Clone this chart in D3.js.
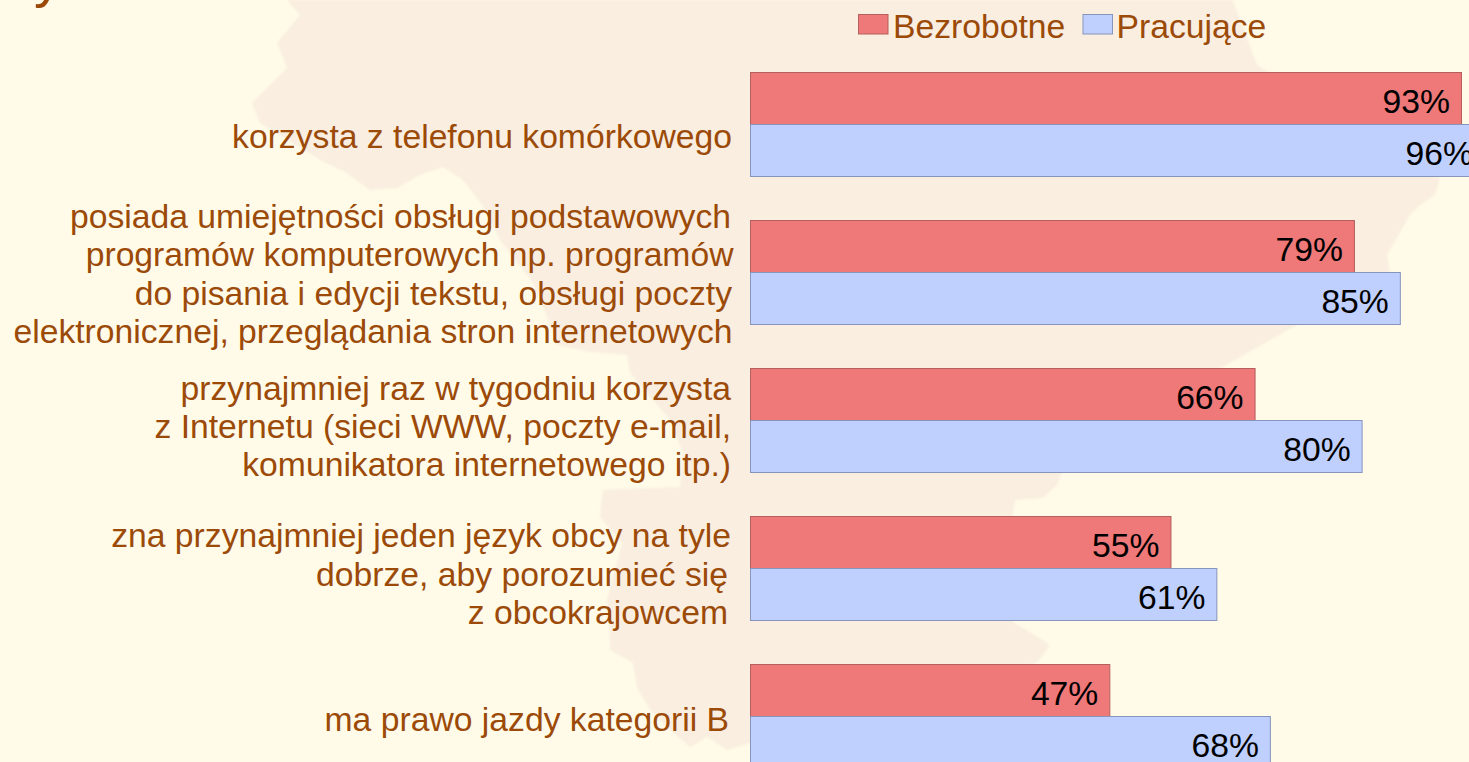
<!DOCTYPE html>
<html><head><meta charset="utf-8">
<script src="https://cdnjs.cloudflare.com/ajax/libs/d3/7.8.5/d3.min.js"></script>
<style>html,body{margin:0;padding:0;background:#FFFBE8;overflow:hidden}svg{display:block}text{font-family:"Liberation Sans",Arial,sans-serif}</style>
</head><body><svg id="c" width="1469" height="762"></svg>
<script>
const categories = ["telefon","programy","internet","jezyk","prawo"];
const categoryLines = [
 ["korzysta z telefonu komórkowego"],
 ["posiada umiejętności obsługi podstawowych","programów komputerowych np. programów","do pisania i edycji tekstu, obsługi poczty","elektronicznej, przeglądania stron internetowych"],
 ["przynajmniej raz w tygodniu korzysta","z Internetu (sieci WWW, poczty e-mail,","komunikatora internetowego itp.)"],
 ["zna przynajmniej jeden język obcy na tyle","dobrze, aby porozumieć się","z obcokrajowcem"],
 ["ma prawo jazdy kategorii B"]
];
const seriesNames = ["Bezrobotne","Pracujące"];
const bezrobotne = [93,79,66,55,47];
const pracujace = [96,85,80,61,68];
const seriesValues = [bezrobotne,pracujace];
const seriesColors = ["#EF7878","#BFD0FE"];
const seriesStrokes = ["#B4605E","#8595BC"];
const mapOutline = [[287,0],[300,15],[277,43],[287,68],[252,103],[260,123],[320,160],[345,172],[370,190],[397,188],[420,175],[443,167],[463,180],[482,205],[500,240],[533,283],[547,317],[557,345],[590,352],[627,355],[630,373],[647,393],[670,420],[683,453],[680,487],[620,489],[603,490],[600,517],[622,543],[607,600],[610,640],[610,650],[633,663],[637,687],[650,710],[670,730],[690,747],[707,737],[727,750],[750,743],[1037,663],[1050,645],[1043,640],[1013,622],[1013,516],[1015,500],[1043,498],[1057,485],[1062,472],[1200,380],[1390,272],[1387,255],[1410,215],[1420,205],[1435,195],[1440,178],[1257,65],[1233,0]];

const svg = d3.select("#c");
const TEXT="#9C4A08", FS=33.7, LH=38.4;
const defs=svg.append("defs");
defs.append("filter").attr("id","soft").append("feGaussianBlur").attr("stdDeviation",1.2);
svg.append("rect").attr("width",1469).attr("height",762).attr("fill","#FFFBE8");
svg.append("path").attr("d",d3.line()(mapOutline)+"Z").attr("fill","#F9EEE0").attr("filter","url(#soft)");
svg.append("text").attr("x",34).attr("y",-4).attr("font-size",56).attr("font-weight","normal").attr("fill",TEXT).text("y");

const x = d3.scaleLinear().domain([0,100]).range([750,1514.5]);
const y0 = d3.scaleBand().domain(categories).range([72,768]).paddingInner(44/148).paddingOuter(0);
const y1 = d3.scaleBand().domain(seriesNames).range([0,y0.bandwidth()]);

const labelDy=[24,13.5,18,17.5,15];
const lineX=[[732],[731,733.5,732,732.5],[731,731,731],[731,728,728],[729]];
const g = svg.selectAll(".cat").data(categories).join("g").attr("class","cat");
g.each(function(c,i){
  const sel=d3.select(this), cy=y0(c)+y0.bandwidth()/2, lines=categoryLines[i];
  sel.selectAll("text.l").data(lines).join("text").attr("class","l")
    .attr("x",(d,k)=>lineX[i][k]).attr("text-anchor","end").attr("font-size",FS).attr("fill",TEXT)
    .attr("y",(d,k)=>cy+labelDy[i]+(k-(lines.length-1)/2)*LH).text(d=>d);
  seriesNames.forEach((s,j)=>{
    const v=seriesValues[j][i];
    sel.append("rect").attr("x",x(0)+.5).attr("y",y0(c)+y1(s)+.5)
      .attr("width",x(v)-x(0)).attr("height",y1.bandwidth())
      .attr("fill",seriesColors[j]).attr("stroke",seriesStrokes[j]);
    sel.append("text").attr("x",x(v)-11).attr("y",y0(c)+y1(s)+41).attr("text-anchor","end")
      .attr("font-size",FS).attr("fill","#000").text(v+"%");
  });
});
const legX=[858.5,1083], legT=[893,1116.5];
seriesNames.forEach((s,j)=>{
  svg.append("rect").attr("x",legX[j]).attr("y",14.5).attr("width",29.5).attr("height",19.5)
    .attr("fill",seriesColors[j]).attr("stroke",seriesStrokes[j]);
  svg.append("text").attr("x",legT[j]).attr("y",38).attr("font-size",FS).attr("fill",TEXT).text(s);
});
</script></body></html>
